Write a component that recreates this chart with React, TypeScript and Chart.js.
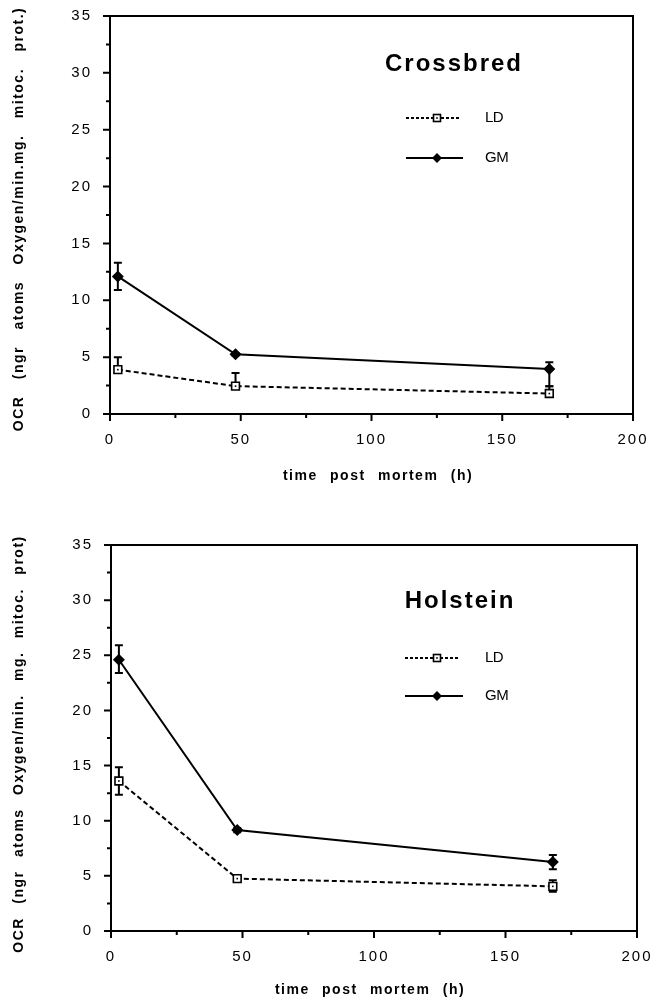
import React, { useEffect, useRef } from 'react';
import { Chart, registerables } from 'chart.js';

Chart.register(...registerables);

// Sampling times (h post mortem)
const hours = [3, 48, 168];

// Crossbred: oxygen consumption rate, means with error bar extents
const crossLD = [3.9, 2.45, 1.8];
const crossLDUp = [1.1, 1.15, 0.65];
const crossLDDown = [0, 0, 0];
const crossGM = [12.1, 5.25, 3.95];
const crossGMUp = [1.2, 0.1, 0.6];
const crossGMDown = [1.2, 0.1, 1.5];

// Holstein
const holLD = [13.6, 4.75, 4.05];
const holLDUp = [1.25, 0.15, 0.55];
const holLDDown = [1.25, 0.15, 0.5];
const holGM = [24.6, 9.15, 6.25];
const holGMUp = [1.3, 0.2, 0.65];
const holGMDown = [1.2, 0.2, 0.65];

// Axis ranges and tick steps
const xMin = 0;
const xMax = 200;
const xStep = 25;
const xLabelStep = 50;
const yMin = 0;
const yMax = 35;
const yStep = 2.5;
const yLabelStep = 5;

const seriesNames = ['LD', 'GM'];
const xTitle = 'time post mortem (h)';

const FONT = '"Liberation Sans", Arial, Helvetica, sans-serif';
const X_AXIS_H = 60;
const WIDTH = 654;

type Panel = {
  title: string;
  yTitle: string;
  yTitleWordGap: number;
  ld: number[];
  ldUp: number[];
  ldDown: number[];
  gm: number[];
  gmUp: number[];
  gmDown: number[];
  height: number;
  area: { left: number; right: number; top: number; bottom: number };
  titlePos: [number, number];
  legendRows: [number, number];
  legendLine: [number, number];
  legendMarkX: number;
  legendTextX: number;
  yTitlePos: [number, number];
  xTitlePos: [number, number];
};

const panels: Panel[] = [
  {
    title: 'Crossbred',
    yTitle: 'OCR (ngr atoms Oxygen/min.mg. mitoc. prot.)',
    yTitleWordGap: 11,
    ld: crossLD, ldUp: crossLDUp, ldDown: crossLDDown,
    gm: crossGM, gmUp: crossGMUp, gmDown: crossGMDown,
    height: 500,
    area: { left: 110, right: 633, top: 16, bottom: 414 },
    titlePos: [454, 64],
    legendRows: [118, 158],
    legendLine: [406, 463],
    legendMarkX: 437,
    legendTextX: 485,
    yTitlePos: [19, 219],
    xTitlePos: [378, 476],
  },
  {
    title: 'Holstein',
    yTitle: 'OCR (ngr atoms Oxygen/min. mg. mitoc. prot)',
    yTitleWordGap: 8,
    ld: holLD, ldUp: holLDUp, ldDown: holLDDown,
    gm: holGM, gmUp: holGMUp, gmDown: holGMDown,
    height: 502,
    area: { left: 111, right: 637, top: 45, bottom: 431 },
    titlePos: [460, 101],
    legendRows: [158, 196],
    legendLine: [405, 463],
    legendMarkX: 437,
    legendTextX: 485,
    yTitlePos: [19, 244],
    xTitlePos: [370, 490],
  },
];

function text(
  ctx: CanvasRenderingContext2D,
  s: string,
  x: number,
  y: number,
  font: string,
  align: CanvasTextAlign,
  ls: number,
  ws = 0
) {
  ctx.save();
  ctx.font = font;
  ctx.textAlign = align;
  ctx.textBaseline = 'middle';
  ctx.fillStyle = '#000';
  (ctx as any).letterSpacing = ls + 'px';
  (ctx as any).wordSpacing = ws + 'px';
  ctx.fillText(s, x, y);
  ctx.restore();
}

function openSquare(ctx: CanvasRenderingContext2D, x: number, y: number) {
  ctx.save();
  ctx.setLineDash([]);
  ctx.fillStyle = '#fff';
  ctx.strokeStyle = '#000';
  ctx.lineWidth = 1.6;
  ctx.fillRect(x - 3.5, y - 3.5, 7, 7);
  ctx.strokeRect(x - 3.5, y - 3.5, 7, 7);
  ctx.fillStyle = '#000';
  ctx.fillRect(x - 0.8, y - 0.8, 1.6, 1.6);
  ctx.restore();
}

function diamond(ctx: CanvasRenderingContext2D, x: number, y: number, r: number) {
  ctx.save();
  ctx.fillStyle = '#000';
  ctx.beginPath();
  ctx.moveTo(x, y - r);
  ctx.lineTo(x + r, y);
  ctx.lineTo(x, y + r);
  ctx.lineTo(x - r, y);
  ctx.closePath();
  ctx.fill();
  ctx.restore();
}

function decor(p: Panel) {
  return {
    id: 'decor',
    beforeDraw(chart: any) {
      chart.ctx.letterSpacing = '2px';
    },
    beforeDatasetsDraw(chart: any) {
      const ctx: CanvasRenderingContext2D = chart.ctx;
      const ys = chart.scales.y;
      const sets: [number[], number[], number[]][] = [
        [p.ld, p.ldUp, p.ldDown],
        [p.gm, p.gmUp, p.gmDown],
      ];
      ctx.save();
      ctx.strokeStyle = '#000';
      ctx.lineWidth = 2;
      ctx.setLineDash([]);
      sets.forEach(([vals, up, down], di) => {
        const meta = chart.getDatasetMeta(di);
        meta.data.forEach((pt: any, i: number) => {
          const x = pt.x;
          const yt = ys.getPixelForValue(vals[i] + up[i]);
          const yb = ys.getPixelForValue(vals[i] - down[i]);
          ctx.beginPath();
          ctx.moveTo(x, yt);
          ctx.lineTo(x, yb);
          if (up[i] > 0) {
            ctx.moveTo(x - 4, yt);
            ctx.lineTo(x + 4, yt);
          }
          if (down[i] > 0) {
            ctx.moveTo(x - 4, yb);
            ctx.lineTo(x + 4, yb);
          }
          ctx.stroke();
        });
      });
      ctx.restore();
    },
    afterDatasetsDraw(chart: any) {
      const ctx: CanvasRenderingContext2D = chart.ctx;
      const meta = chart.getDatasetMeta(0);
      ctx.save();
      ctx.fillStyle = '#000';
      meta.data.forEach((pt: any) => {
        ctx.fillRect(pt.x - 0.8, pt.y - 0.8, 1.6, 1.6);
      });
      ctx.restore();
    },
    afterDraw(chart: any) {
      const ctx: CanvasRenderingContext2D = chart.ctx;
      (ctx as any).letterSpacing = '0px';
      const a = chart.chartArea;
      const xs = chart.scales.x;
      const ys = chart.scales.y;

      // frame round the plot area
      ctx.save();
      ctx.strokeStyle = '#000';
      ctx.lineWidth = 2;
      ctx.strokeRect(a.left, a.top, a.right - a.left, a.bottom - a.top);

      // outward ticks, major ones longer
      ctx.beginPath();
      xs.ticks.forEach((t: any) => {
        const px = xs.getPixelForValue(t.value);
        const len = t.value % xLabelStep === 0 ? 7 : 4;
        ctx.moveTo(px, a.bottom);
        ctx.lineTo(px, a.bottom + len);
      });
      ys.ticks.forEach((t: any) => {
        const py = ys.getPixelForValue(t.value);
        const len = t.value % yLabelStep === 0 ? 7 : 4;
        ctx.moveTo(a.left - len, py);
        ctx.lineTo(a.left, py);
      });
      ctx.stroke();
      ctx.restore();

      // panel title
      text(ctx, p.title, p.titlePos[0], p.titlePos[1], `bold 24px ${FONT}`, 'center', 2);

      // legend
      const [l0, l1] = p.legendLine;
      const [r0, r1] = p.legendRows;
      ctx.save();
      ctx.strokeStyle = '#000';
      ctx.lineWidth = 2;
      ctx.setLineDash([3, 2]);
      ctx.beginPath();
      ctx.moveTo(l0, r0);
      ctx.lineTo(l1 - 3, r0);
      ctx.stroke();
      ctx.setLineDash([]);
      ctx.beginPath();
      ctx.moveTo(l0, r1);
      ctx.lineTo(l1, r1);
      ctx.stroke();
      ctx.restore();
      openSquare(ctx, p.legendMarkX, r0);
      diamond(ctx, p.legendMarkX, r1, 5);
      text(ctx, seriesNames[0], p.legendTextX, r0, `15px ${FONT}`, 'left', -0.5);
      text(ctx, seriesNames[1], p.legendTextX, r1, `15px ${FONT}`, 'left', -0.5);

      // axis titles
      ctx.save();
      ctx.translate(p.yTitlePos[0], p.yTitlePos[1]);
      ctx.rotate(-Math.PI / 2);
      text(ctx, p.yTitle, 0, 0, `bold 14px ${FONT}`, 'center', 1.5, p.yTitleWordGap);
      ctx.restore();
      text(ctx, xTitle, p.xTitlePos[0], p.xTitlePos[1], `bold 14px ${FONT}`, 'center', 1.5, 7);
    },
  };
}

// drop the label-overflow padding so the plot area sits where the layout puts it
function clearScalePadding(s: any) {
  s.paddingTop = 0;
  s.paddingBottom = 0;
  s.paddingLeft = 0;
  s.paddingRight = 0;
}

function PanelChart({ p }: { p: Panel }) {
  const ref = useRef<HTMLCanvasElement>(null);
  useEffect(() => {
    if (!ref.current) return;
    const chart = new Chart(ref.current, {
      type: 'line',
      data: {
        datasets: [
          {
            label: seriesNames[0],
            data: hours.map((h, i) => ({ x: h, y: p.ld[i] })),
            borderColor: '#000',
            borderWidth: 2,
            borderDash: [5, 3],
            pointStyle: 'rect',
            pointRadius: 5.5,
            pointBorderWidth: 1.6,
            pointBackgroundColor: '#fff',
            pointBorderColor: '#000',
            tension: 0,
          },
          {
            label: seriesNames[1],
            data: hours.map((h, i) => ({ x: h, y: p.gm[i] })),
            borderColor: '#000',
            borderWidth: 2,
            pointStyle: 'rectRot',
            pointRadius: 6,
            pointBorderWidth: 0,
            pointBackgroundColor: '#000',
            pointBorderColor: '#000',
            tension: 0,
          },
        ],
      },
      options: {
        responsive: false,
        animation: false,
        devicePixelRatio: 1,
        layout: {
          padding: {
            left: 0,
            top: p.area.top,
            right: WIDTH - p.area.right,
            bottom: p.height - p.area.bottom - X_AXIS_H,
          },
        },
        plugins: {
          legend: { display: false },
          tooltip: { enabled: false },
          title: { display: false },
        },
        scales: {
          x: {
            type: 'linear',
            min: xMin,
            max: xMax,
            grid: { display: false, drawTicks: false },
            border: { display: false },
            ticks: {
              stepSize: xStep,
              autoSkip: false,
              maxRotation: 0,
              padding: 17,
              color: '#000',
              font: { family: FONT, size: 15 },
              callback: (v: any) => (Number(v) % xLabelStep === 0 ? String(v) : ''),
            },
            afterFit: (s: any) => {
              s.height = X_AXIS_H;
              clearScalePadding(s);
            },
          },
          y: {
            type: 'linear',
            min: yMin,
            max: yMax,
            grid: { display: false, drawTicks: false },
            border: { display: false },
            ticks: {
              stepSize: yStep,
              autoSkip: false,
              padding: 18,
              color: '#000',
              font: { family: FONT, size: 15 },
              callback: (v: any) => (Number(v) % yLabelStep === 0 ? String(v) : ''),
            },
            afterFit: (s: any) => {
              s.width = p.area.left;
              clearScalePadding(s);
            },
          },
        },
      },
      plugins: [decor(p)],
    } as any);
    return () => chart.destroy();
  }, [p]);
  return (
    <canvas
      ref={ref}
      width={WIDTH}
      height={p.height}
      style={{ display: 'block', width: WIDTH, height: p.height }}
    />
  );
}

export default function App() {
  return (
    <div style={{ position: 'absolute', left: 0, top: 0, width: WIDTH, background: '#fff' }}>
      {panels.map((p) => (
        <PanelChart key={p.title} p={p} />
      ))}
    </div>
  );
}
